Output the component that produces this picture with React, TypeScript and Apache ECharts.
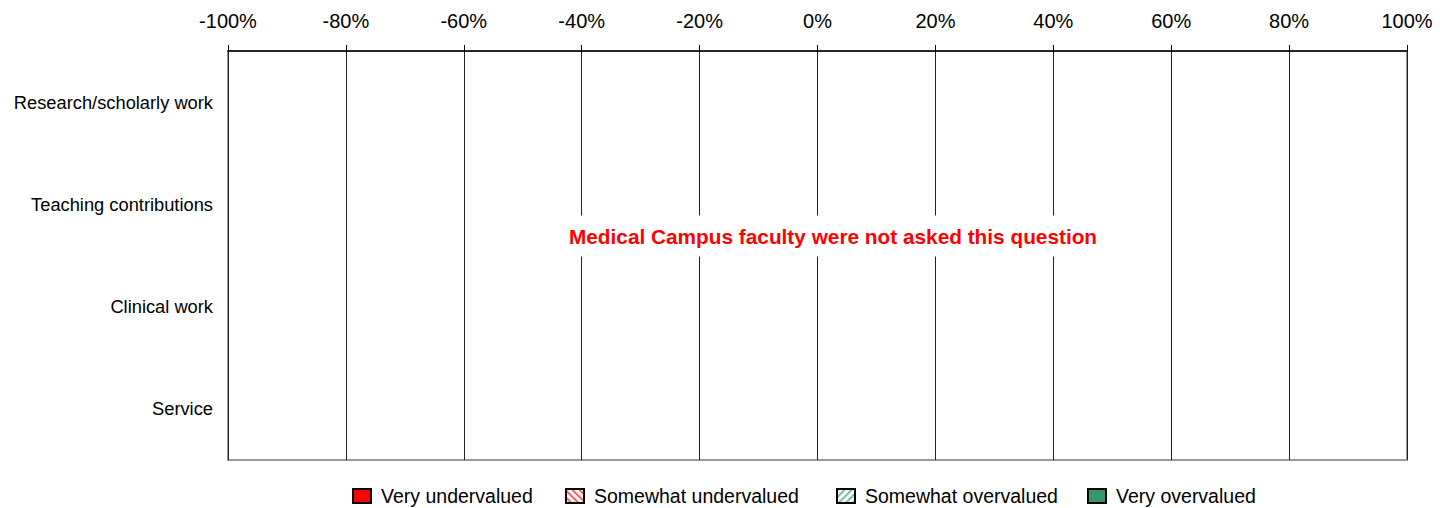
import React, { useEffect, useRef } from "react";
import * as echarts from "echarts";

const categories = ["Research/scholarly work", "Teaching contributions", "Clinical work", "Service"];
const tickMin = -100;
const tickMax = 100;
const tickStep = 20;
const veryUndervalued: (number | null)[] = [null, null, null, null];
const somewhatUndervalued: (number | null)[] = [null, null, null, null];
const somewhatOvervalued: (number | null)[] = [null, null, null, null];
const veryOvervalued: (number | null)[] = [null, null, null, null];
const seriesNames = ["Very undervalued", "Somewhat undervalued", "Somewhat overvalued", "Very overvalued"];
const note = "Medical Campus faculty were not asked this question";

const FONT = "'Liberation Sans', Arial, Helvetica, sans-serif";
const legendLefts = [352, 565, 836, 1087];

export default function App() {
  const ref = useRef<HTMLDivElement>(null);
  useEffect(() => {
    if (!ref.current) return;
    const chart = echarts.init(ref.current, null, { renderer: "svg" });
    const hatch = (color: string, rot: number) => ({
      symbol: "rect",
      color,
      dashArrayX: [1, 0],
      dashArrayY: [1.5, 2.5],
      rotation: rot,
      symbolSize: 1,
    });
    chart.setOption({
      animation: false,
      backgroundColor: "#fff",
      textStyle: { fontFamily: FONT },
      grid: {
        left: 228,
        right: 33,
        top: 51,
        bottom: 48,
        show: true,
        borderColor: "#999",
        borderWidth: 2,
        backgroundColor: "transparent",
      },
      xAxis: {
        type: "value",
        position: "top",
        min: tickMin,
        max: tickMax,
        interval: tickStep,
        axisLine: { show: true, lineStyle: { color: "#000", width: 1.5 } },
        axisTick: { show: true, inside: false, length: 6, lineStyle: { color: "#000" } },
        axisLabel: { formatter: "{value}%", fontSize: 20, color: "#000", margin: 20, fontFamily: FONT },
        splitLine: { show: true, lineStyle: { color: "#222", width: 1 } },
      },
      yAxis: {
        type: "category",
        inverse: true,
        data: categories,
        axisLine: { show: false },
        axisTick: { show: false },
        axisLabel: { fontSize: 18.3, color: "#000", margin: 15, fontFamily: FONT },
        splitLine: { show: false },
      },
      legend: seriesNames.map((name, i) => ({
        bottom: 2,
        left: legendLefts[i],
        padding: 0,
        icon: "rect",
        itemWidth: 18,
        itemHeight: 14,
        textStyle: { fontSize: 19.5, color: "#000", fontFamily: FONT, padding: [0, 0, 0, 5] },
        data: [name],
      })),
      series: [
        {
          name: seriesNames[0],
          type: "bar",
          stack: "total",
          data: veryUndervalued,
          itemStyle: { color: "#ff0000", borderColor: "#000", borderWidth: 1 },
        },
        {
          name: seriesNames[1],
          type: "bar",
          stack: "total",
          data: somewhatUndervalued,
          itemStyle: {
            color: "#ffffff",
            borderColor: "#000",
            borderWidth: 1,
            decal: hatch("#ff6060", Math.PI / 4),
          },
        },
        {
          name: seriesNames[2],
          type: "bar",
          stack: "total",
          data: somewhatOvervalued,
          itemStyle: {
            color: "#ffffff",
            borderColor: "#000",
            borderWidth: 1,
            decal: hatch("#7fbf9f", -Math.PI / 4),
          },
        },
        {
          name: seriesNames[3],
          type: "bar",
          stack: "total",
          data: veryOvervalued,
          itemStyle: { color: "#339966", borderColor: "#000", borderWidth: 1 },
        },
      ],
      graphic: [
        {
          type: "text",
          x: 833,
          y: 236,
          z: 100,
          style: {
            text: note,
            x: 0,
            y: 0,
            textAlign: "center",
            textVerticalAlign: "middle",
            fill: "#ff0000",
            font: `bold 20.8px ${FONT}`,
            backgroundColor: "#ffffff",
            padding: [10, 5],
          },
        },
      ],
    });
    return () => chart.dispose();
  }, []);
  return <div ref={ref} style={{ position: "fixed", left: 0, top: 0, width: 1440, height: 508 }} />;
}
